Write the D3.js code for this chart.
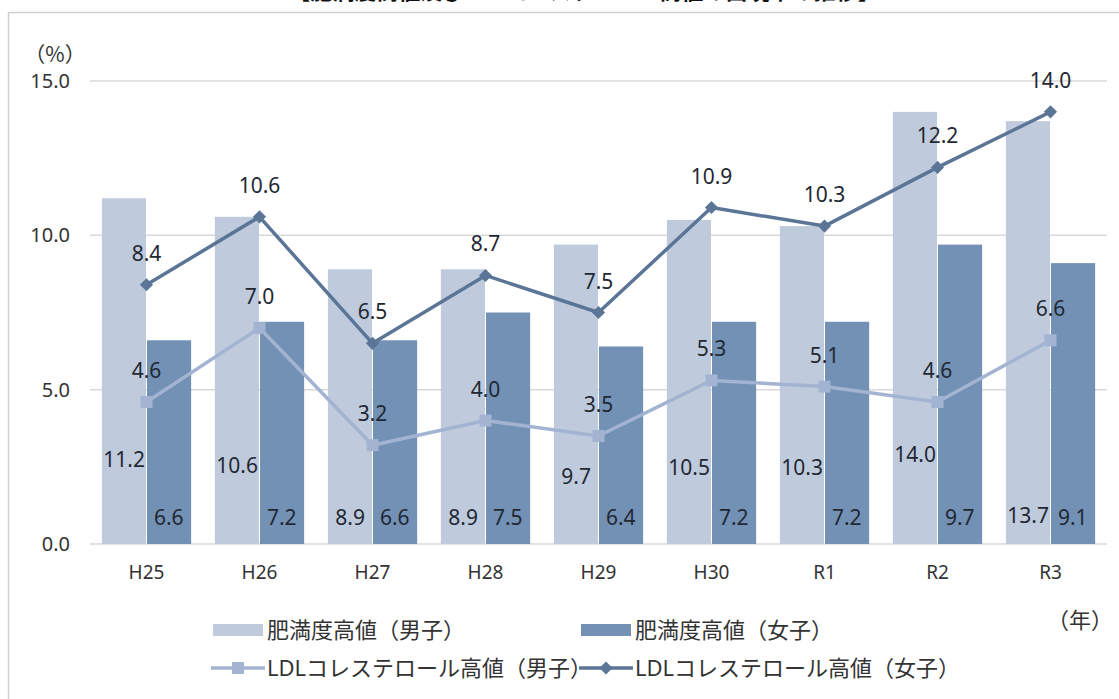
<!DOCTYPE html>
<html lang="ja">
<head>
<meta charset="utf-8">
<script src="https://cdn.jsdelivr.net/npm/d3@7"></script>
<style>
  html, body { margin: 0; padding: 0; background: #ffffff; overflow: hidden; }
  svg { display: block; }
  text { font-family: "Noto Sans", "Noto Sans CJK JP", sans-serif; }
  .jp { font-family: "Noto Sans CJK JP", "Noto Sans", sans-serif; }
</style>
</head>
<body>
<svg id="chart" width="1119" height="699"></svg>
<script>
// Survey years (Heisei 25 – Reiwa 3)
const years = ["H25", "H26", "H27", "H28", "H29", "H30", "R1", "R2", "R3"];

// Share of children with high obesity index (%)
const obeseMale   = [11.2, 10.6, 8.9, 8.9, 9.7, 10.5, 10.3, 14.0, 13.7];
const obeseFemale = [6.6, 7.2, 6.6, 7.5, 6.4, 7.2, 7.2, 9.7, 9.1];

// Share of children with high LDL cholesterol (%)
const ldlMale   = [4.6, 7.0, 3.2, 4.0, 3.5, 5.3, 5.1, 4.6, 6.6];
const ldlFemale = [8.4, 10.6, 6.5, 8.7, 7.5, 10.9, 10.3, 12.2, 14.0];

// Axis ticks
const yTicks = [0, 5, 10, 15];

// Series names
const seriesNames = [
  "肥満度高値（男子）",
  "肥満度高値（女子）",
  "LDLコレステロール高値（男子）",
  "LDLコレステロール高値（女子）"
];

// ---- layout ----
const plot = { left: 90, right: 1107, top: 81, bottom: 544 };
// height (px above the baseline) of each boys' bar value label
const maleLabelLift = [84, 78, 26, 26, 67, 76, 76, 89, 28];

const colors = {
  barMale: "#bfcbdd",
  barFemale: "#7391b5",
  lineMale: "#a2b4d2",
  lineFemale: "#5b7597",
  grid: "#d9d9d9",
  label: "#1f2833",
  axisText: "#333333"
};

const svg = d3.select("#chart");

// Title, sitting above the top of the frame
svg.append("text")
  .attr("class", "jp")
  .attr("x", 584).attr("y", -1)
  .attr("text-anchor", "middle")
  .attr("font-size", 22).attr("font-weight", "bold")
  .attr("fill", "#111")
  .text("【肥満度高値及びLDLコレステロール高値の出現率の推移】");

svg.append("rect")
  .attr("x", 8.5).attr("y", 12.5)
  .attr("width", 1130).attr("height", 720)
  .attr("fill", "none")
  .attr("stroke", "#d0d0d0").attr("stroke-width", 1.5);

const x = d3.scaleBand()
  .domain(years)
  .range([plot.left, plot.right])
  .paddingInner(0.21)
  .paddingOuter(0.105);

const sub = d3.scaleBand()
  .domain(["male", "female"])
  .range([0, x.bandwidth()]);

const y = d3.scaleLinear()
  .domain([0, 15])
  .range([plot.bottom, plot.top]);

// Grid lines
svg.append("g")
  .selectAll("line")
  .data(yTicks)
  .join("line")
  .attr("x1", plot.left).attr("x2", plot.right)
  .attr("y1", d => y(d)).attr("y2", d => y(d))
  .attr("stroke", colors.grid).attr("stroke-width", 1.5);

// Y axis labels
const yAxis = svg.append("g")
  .attr("transform", `translate(${plot.left - 20},0)`)
  .call(d3.axisLeft(y).tickValues(yTicks).tickFormat(d3.format(".1f")).tickSize(0).tickPadding(0));
yAxis.select(".domain").remove();
yAxis.selectAll("text")
  .attr("font-size", 20)
  .attr("fill", colors.axisText)
  .style("font-family", '"Noto Sans", sans-serif');

svg.append("text")
  .attr("class", "jp")
  .attr("x", 55).attr("y", 62)
  .attr("text-anchor", "middle")
  .attr("font-size", 21)
  .attr("fill", colors.axisText)
  .text("（%）");

// X axis labels
const xAxis = svg.append("g")
  .attr("transform", `translate(0,${plot.bottom})`)
  .call(d3.axisBottom(x).tickSize(0).tickPadding(22));
xAxis.select(".domain").remove();
xAxis.selectAll("text")
  .attr("font-size", 19)
  .attr("fill", colors.axisText)
  .style("font-family", '"Noto Sans", sans-serif');

svg.append("text")
  .attr("class", "jp")
  .attr("x", 1080).attr("y", 628)
  .attr("text-anchor", "middle")
  .attr("font-size", 22)
  .attr("fill", colors.axisText)
  .text("（年）");

// Bars
const rows = years.map((yr, i) => ({
  year: yr,
  male: obeseMale[i],
  female: obeseFemale[i],
  lift: maleLabelLift[i]
}));

const groups = svg.append("g")
  .selectAll("g")
  .data(rows)
  .join("g")
  .attr("transform", d => `translate(${x(d.year)},0)`);

groups.append("rect")
  .attr("x", sub("male"))
  .attr("width", sub.bandwidth() - 0.5)
  .attr("y", d => y(d.male))
  .attr("height", d => y(0) - y(d.male))
  .attr("fill", colors.barMale);

groups.append("rect")
  .attr("x", sub("female") + 0.5)
  .attr("width", sub.bandwidth() - 0.5)
  .attr("y", d => y(d.female))
  .attr("height", d => y(0) - y(d.female))
  .attr("fill", colors.barFemale);

// Lines
const cx = yr => x(yr) + x.bandwidth() / 2;
const lineGen = d3.line().x(d => cx(d.year)).y(d => y(d.v));

const ldlMaleData = years.map((yr, i) => ({ year: yr, v: ldlMale[i] }));
const ldlFemaleData = years.map((yr, i) => ({ year: yr, v: ldlFemale[i] }));

svg.append("path")
  .datum(ldlMaleData)
  .attr("d", lineGen)
  .attr("fill", "none")
  .attr("stroke", colors.lineMale)
  .attr("stroke-width", 3.5)
  .attr("stroke-linejoin", "round");

svg.append("g")
  .selectAll("rect")
  .data(ldlMaleData)
  .join("rect")
  .attr("x", d => cx(d.year) - 6)
  .attr("y", d => y(d.v) - 6)
  .attr("width", 12).attr("height", 12)
  .attr("fill", colors.lineMale);

svg.append("path")
  .datum(ldlFemaleData)
  .attr("d", lineGen)
  .attr("fill", "none")
  .attr("stroke", colors.lineFemale)
  .attr("stroke-width", 3.5)
  .attr("stroke-linejoin", "round");

const diamond = d3.symbol().type(d3.symbolDiamond2).size(110);
svg.append("g")
  .selectAll("path")
  .data(ldlFemaleData)
  .join("path")
  .attr("transform", d => `translate(${cx(d.year)},${y(d.v)})`)
  .attr("d", diamond)
  .attr("fill", colors.lineFemale);

// Value labels
const fmt = d3.format(".1f");
const labels = svg.append("g")
  .attr("font-size", 21)
  .attr("fill", colors.label)
  .attr("text-anchor", "middle");

labels.selectAll("text.bm")
  .data(rows)
  .join("text")
  .attr("class", "bm")
  .attr("x", d => x(d.year) + sub("male") + sub.bandwidth() / 2)
  .attr("y", d => y(0) - d.lift + 7)
  .text(d => fmt(d.male));

labels.selectAll("text.bf")
  .data(rows)
  .join("text")
  .attr("class", "bf")
  .attr("x", d => x(d.year) + sub("female") + sub.bandwidth() / 2)
  .attr("y", y(0) - 26 + 7)
  .text(d => fmt(d.female));

labels.selectAll("text.lm")
  .data(ldlMaleData)
  .join("text")
  .attr("class", "lm")
  .attr("x", d => cx(d.year))
  .attr("y", d => y(d.v) - 31 + 7)
  .text(d => fmt(d.v));

labels.selectAll("text.lf")
  .data(ldlFemaleData)
  .join("text")
  .attr("class", "lf")
  .attr("x", d => cx(d.year))
  .attr("y", d => y(d.v) - 31 + 7)
  .text(d => fmt(d.v));

// Legend
const legend = svg.append("g")
  .attr("class", "jp")
  .attr("font-size", 22)
  .attr("fill", "#333333");

const legendItems = [
  { name: seriesNames[0], kind: "bar", color: colors.barMale, x: 213, y: 630 },
  { name: seriesNames[1], kind: "bar", color: colors.barFemale, x: 581, y: 630 },
  { name: seriesNames[2], kind: "square", color: colors.lineMale, x: 211, y: 668 },
  { name: seriesNames[3], kind: "diamond", color: colors.lineFemale, x: 579, y: 668 }
];

legendItems.forEach(it => {
  const g = legend.append("g").attr("transform", `translate(${it.x},${it.y})`);
  if (it.kind === "bar") {
    g.append("rect")
      .attr("x", 0).attr("y", -6)
      .attr("width", 50).attr("height", 12)
      .attr("fill", it.color);
    g.append("text")
      .attr("x", 54).attr("y", 8)
      .text(it.name);
  } else {
    g.append("line")
      .attr("x1", 0).attr("x2", 54)
      .attr("y1", 0).attr("y2", 0)
      .attr("stroke", it.color).attr("stroke-width", 3.5);
    if (it.kind === "square") {
      g.append("rect")
        .attr("x", 21).attr("y", -6)
        .attr("width", 12).attr("height", 12)
        .attr("fill", it.color);
    } else {
      g.append("path")
        .attr("transform", "translate(27,0)")
        .attr("d", diamond)
        .attr("fill", it.color);
    }
    g.append("text")
      .attr("x", 56).attr("y", 8)
      .text(it.name);
  }
});
</script>
</body>
</html>
